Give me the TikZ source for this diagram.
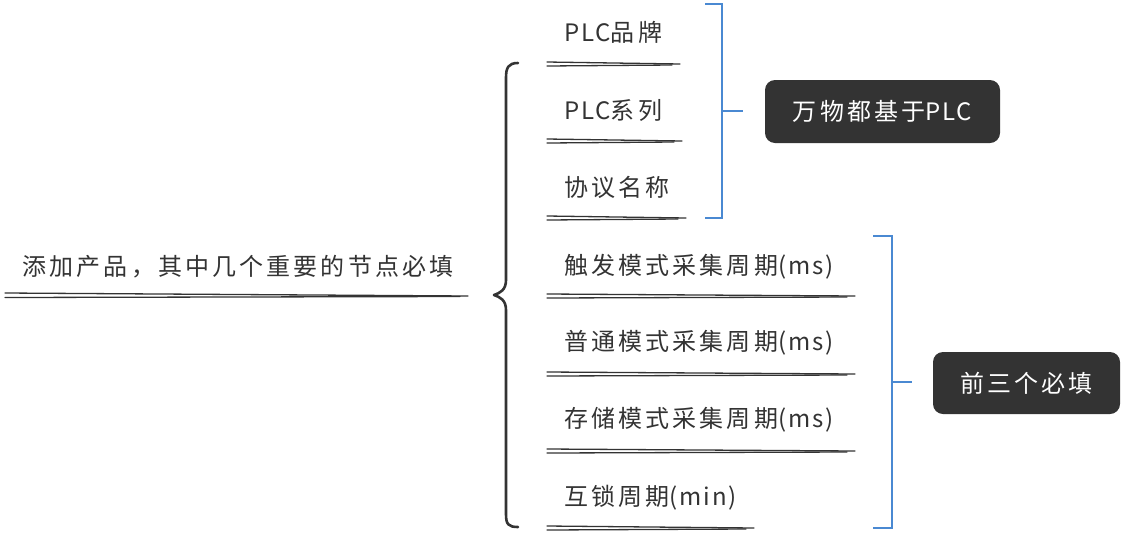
\documentclass[tikz,border=0pt]{standalone}
\usepackage{fontspec}
\newfontfamily\cjk[LetterSpace=13]{Noto Sans CJK SC}
\newfontfamily\lat[LetterSpace=8]{Noto Sans CJK SC}
\newcommand{\Lt}[1]{{\lat #1}}
\definecolor{ink}{HTML}{333333}
\definecolor{brk}{HTML}{4A89D2}
\begin{document}
\begin{tikzpicture}[x=1pt,y=-1pt,
  lbl/.style={font=\cjk\fontsize{24}{27}\selectfont, text=ink, inner sep=0pt, anchor=west},
  ul/.style={draw=ink, line width=1.3pt, line cap=round},
  brace/.style={draw=ink, line width=2.6pt, line cap=round, line join=round},
  bracket/.style={draw=brk, line width=1.6pt},
  tag/.style={fill=ink, text=white, rounded corners=10pt, font=\cjk\fontsize{24}{27}\selectfont, inner sep=0pt}]
\useasboundingbox (0,0) rectangle (1133,547);
% root
\node[lbl, anchor=center] (root) at (238,267) {添加产品，其中几个重要的节点必填};
\draw[ul] (5,293) -- (468,296);
\draw[ul] (5,297.5) -- (460,296.5);
% brace
\coordinate (btop) at (518,63);
\coordinate (bbot) at (518,527);
\coordinate (btip) at (494,295);
\draw[brace] (btop) .. controls (508,63) and (506,68) .. (506,78) -- (506,280)
  .. controls (506,290) and (500,293) .. (btip)
  .. controls (500,297) and (506,300) .. (506,310) -- (506,514)
  .. controls (506,524) and (508,527) .. (bbot);
% children
\node[lbl] (c1) at (564,32) {\Lt{PLC}品牌};
\node[lbl] (c2) at (564,110) {\Lt{PLC}系列};
\node[lbl] (c3) at (564,187) {协议名称};
\node[lbl] (c4) at (564,267) {触发模式采集周期\Lt{(ms)}};
\node[lbl] (c5) at (564,343) {普通模式采集周期\Lt{(ms)}};
\node[lbl] (c6) at (564,420) {存储模式采集周期\Lt{(ms)}};
\node[lbl] (c7) at (564,498) {互锁周期\Lt{(min)}};
% underlines
\foreach \y/\xe in {64/680,141/682,218/686,296/855,374/855,451/855,528/754}{
  \draw[ul] (547,\y-2) -- (\xe,\y);
  \draw[ul] (547,\y+2) -- (\xe-8,\y+1);
}
% brackets
\draw[bracket] (705,4) -- (722,4) -- (722,218) -- (705,218);
\coordinate (m1) at (722,111);
\node[tag, minimum width=235pt, minimum height=63pt] (t1) at (882.5,111.5) {万物都基于\Lt{PLC}};
\draw[bracket] (m1) -- (743,111);
\draw[bracket] (873,236) -- (892,236) -- (892,528) -- (873,528);
\coordinate (m2) at (892,382);
\node[tag, minimum width=187pt, minimum height=62pt] (t2) at (1026.5,383) {前三个必填};
\draw[bracket] (m2) -- (912,382);
\end{tikzpicture}
\end{document}
